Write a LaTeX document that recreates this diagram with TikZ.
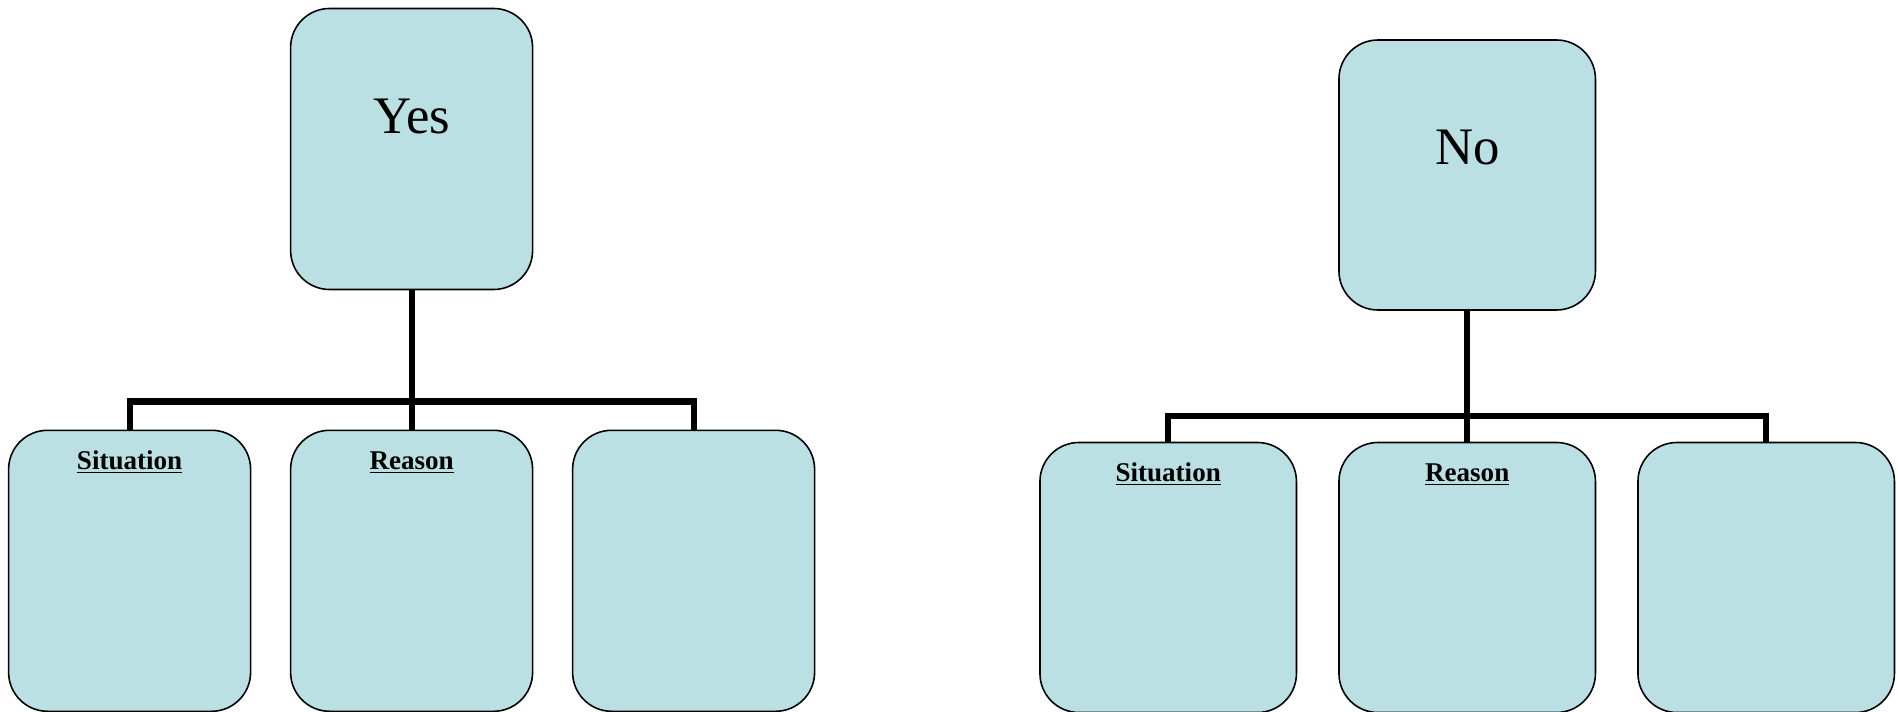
\documentclass[tikz,border=0pt]{standalone}
\usepackage{fontspec}
\setmainfont{Liberation Serif}
\usepackage{tikz}
\usetikzlibrary{positioning}
\definecolor{boxblue}{RGB}{187,224,227}

\tikzset{
  box/.style={draw, line width=0.9pt, fill=boxblue, rounded corners=0.78cm, inner sep=0pt},
  smallbox/.style={box, minimum width=4.84cm, minimum height=5.62cm},
  bigbox/.style={box, minimum width=5.13cm, minimum height=5.40cm},
  answer/.style={label={[anchor=center,yshift=-2.17cm,font=\fontsize{30}{34}\selectfont]north:#1}},
  heading/.style={label={[anchor=base,yshift=-0.80cm,inner sep=0pt,font=\fontsize{15.4}{18}\selectfont\bfseries]north:\underline{#1}}},
  tree/.style={line width=3.5pt}
}

\begin{document}
\begin{tikzpicture}[node distance=5.64cm]
    \useasboundingbox (0,0) rectangle (37.96,-14.24);

    % yes tree
    \node[smallbox,answer=Yes] (Y) at (8.232,-2.98) {};
    \node[smallbox,heading=Reason,node distance=8.436cm,below of=Y] (YR) {};
    \node[smallbox,heading=Situation] (YS) [left of=YR] {};
    \node[smallbox] (YE) [right of=YR] {};

    % no tree
    \node[bigbox,answer=No] (N) at (29.344,-3.50) {};
    \node[bigbox,heading=Reason,node distance=8.05cm,below of=N] (NR) {};
    \node[bigbox,heading=Situation,node distance=5.98cm,left of=NR] (NS) {};
    \node[bigbox,node distance=5.98cm,right of=NR] (NE) {};

    % connectors
    \draw[tree] (Y) -- (YR);
    \draw[tree] (YS.north) -- ++(0,0.56) -| (YE.north);
    \draw[tree] (N) -- (NR);
    \draw[tree] (NS.north) -- ++(0,0.52) -| (NE.north);
\end{tikzpicture}
\end{document}
